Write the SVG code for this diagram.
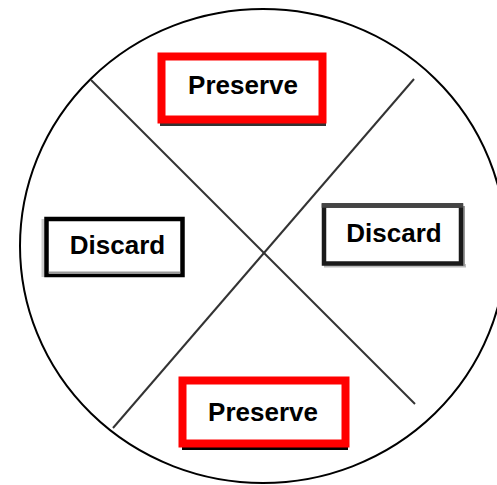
<svg xmlns="http://www.w3.org/2000/svg" width="497" height="485" viewBox="0 0 497 485">
  <style>
    .lbl { font-family: "Liberation Sans", Arial, sans-serif; font-weight: bold; font-size: 26px; fill: #000; text-anchor: middle; }
    .red { fill: #fff; stroke: #ff0000; stroke-width: 8; }
    .blk { fill: #fff; stroke: #000; stroke-width: 4.5; }
    .div { stroke: #333; stroke-width: 2; fill: none; }
  </style>
  <rect width="497" height="485" fill="#fff"/>
  <ellipse id="circle" cx="263" cy="246" rx="243" ry="237" fill="none" stroke="#000" stroke-width="2"/>
  <g id="connectors">
    <line class="div" x1="91" y1="80" x2="415" y2="404"/>
    <line class="div" x1="414" y1="79" x2="113" y2="428"/>
  </g>
  <g id="preserve-top">
    <rect x="160" y="122" width="166" height="4" fill="#333"/>
    <rect class="red" x="161.5" y="56.5" width="161" height="63"/>
    <text class="lbl" x="243" y="94">Preserve</text>
  </g>
  <g id="discard-left">
    <rect x="41.5" y="219" width="3" height="58" fill="#ccc"/>
    <rect class="blk" x="46.5" y="219" width="136" height="56"/>
    <rect x="48.7" y="271.5" width="131.6" height="2.5" fill="#999"/>
    <text class="lbl" x="117.5" y="253.5">Discard</text>
  </g>
  <g id="discard-right">
    <rect x="324" y="264" width="142" height="3.5" fill="#bbb"/>
    <rect x="462" y="206" width="3" height="60" fill="#999"/>
    <rect x="324" y="205.5" width="137" height="58" fill="#fff" stroke="#1a1a1a" stroke-width="4.5"/>
    <line x1="321.7" y1="205.5" x2="463" y2="205.5" stroke="#444" stroke-width="4.5"/>
    <text class="lbl" x="394" y="242">Discard</text>
  </g>
  <g id="preserve-bottom">
    <rect x="182" y="446" width="166" height="4" fill="#000"/>
    <rect class="red" x="182.5" y="380.5" width="163" height="63"/>
    <text class="lbl" x="263" y="421">Preserve</text>
  </g>
</svg>
